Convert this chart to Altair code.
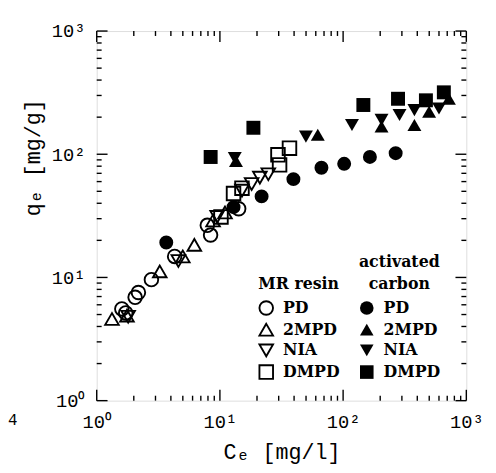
import altair as alt
import pandas as pd

# ---------------- data ----------------
compounds = ["PD", "2MPD", "NIA", "DMPD"]
shapes = ["circle", "triangle-up", "triangle-down", "square"]

# MR resin (open symbols)
resin_PD_x = [1.60, 1.72, 2.05, 2.18, 2.78, 4.29, 7.9, 8.4, 14.2]
resin_PD_y = [5.55, 5.15, 6.9, 7.55, 9.6, 14.8, 26.5, 22.1, 36.1]
resin_2MPD_x = [1.33, 1.76, 3.25, 5.0, 6.2, 8.8, 11.0]
resin_2MPD_y = [4.6, 4.9, 11.2, 14.8, 18.4, 29.0, 33.7]
resin_NIA_x = [1.8, 4.6, 9.5, 15.1, 18.1, 21.1, 24.7]
resin_NIA_y = [4.8, 13.6, 31.0, 50.6, 57.3, 64.6, 68.8]
resin_DMPD_x = [10.2, 12.9, 15.1, 29.6, 30.5, 36.7]
resin_DMPD_y = [31.0, 48.0, 53.0, 99.0, 82.0, 112.0]

# activated carbon (filled symbols)
carbon_PD_x = [3.67, 12.9, 21.8, 39.5, 66.7, 102, 165, 267]
carbon_PD_y = [19.2, 37.2, 45.5, 62.8, 77.7, 83.6, 95.1, 102]
carbon_2MPD_x = [13.5, 62.3, 205, 379, 499, 722]
carbon_2MPD_y = [88, 144, 168, 173, 221, 282]
carbon_NIA_x = [13.2, 49.9, 118, 205, 287, 379, 600]
carbon_NIA_y = [93, 139, 173, 190, 208, 228, 235]
carbon_DMPD_x = [8.41, 18.7, 146, 279, 470, 657]
carbon_DMPD_y = [95, 164, 251, 282, 274, 318]

major_ticks = [1, 10, 100, 1000]
minor_ticks = [k * 10 ** e for e in range(3) for k in range(2, 10)]
tick_labels = ["10\u2070", "10\u00b9", "10\u00b2", "10\u00b3"]

# ---------------- tables ----------------
def series(material, comp, xs, ys):
    return pd.DataFrame({"material": material, "compound": comp, "Ce": xs, "qe": ys})

resin = pd.concat([
    series("MR resin", "PD", resin_PD_x, resin_PD_y),
    series("MR resin", "2MPD", resin_2MPD_x, resin_2MPD_y),
    series("MR resin", "NIA", resin_NIA_x, resin_NIA_y),
    series("MR resin", "DMPD", resin_DMPD_x, resin_DMPD_y),
])
carbon = pd.concat([
    series("activated carbon", "PD", carbon_PD_x, carbon_PD_y),
    series("activated carbon", "2MPD", carbon_2MPD_x, carbon_2MPD_y),
    series("activated carbon", "NIA", carbon_NIA_x, carbon_NIA_y),
    series("activated carbon", "DMPD", carbon_DMPD_x, carbon_DMPD_y),
])
majors = pd.DataFrame({"v": major_ticks})
minors = pd.DataFrame({"v": minor_ticks})

W, H = 375, 375
FONT = "Liberation Mono"
LFONT = "DejaVu Serif"
xscale = alt.Scale(type="log", domain=[1, 1000], nice=False)
yscale = alt.Scale(type="log", domain=[1, 1000], nice=False)

label_expr = " : ".join(
    f"datum.value == {v} ? '{t}'" for v, t in zip(major_ticks, tick_labels)
) + " : ''"

axis_common = dict(
    values=major_ticks, labelExpr=label_expr, ticks=False, domain=False, grid=False,
    labelFont=FONT, labelFontSize=19, labelColor="black",
    titleFont=FONT, titleFontSize=22, titleFontWeight="normal", titleColor="black",
    labelFlush=False,
)

x_axis = alt.Axis(title="C\u2091 [mg/l]", labelPadding=12, titleY=59,
                  titleBaseline="alphabetic", **axis_common)
y_axis = alt.Axis(title="q\u2091 [mg/g]", labelPadding=12, titleX=-58, titleY=128,
                  titleAngle=270, titleBaseline="alphabetic", titleAlign="center",
                  **axis_common)

X_ENC = lambda f: alt.X(f, scale=xscale, axis=x_axis)
Y_ENC = lambda f: alt.Y(f, scale=yscale, axis=y_axis)

legend_common = dict(
    orient="none", direction="vertical", padding=0,
    titleFont=LFONT, titleFontSize=16, titleFontWeight="bold", titleColor="black",
    labelFont=LFONT, labelFontSize=16, labelFontWeight="bold", labelColor="black",
    symbolSize=190, symbolStrokeWidth=1.9, symbolStrokeColor="black",
    rowPadding=1, labelOffset=9, titlePadding=8, symbolOpacity=1,
)

resin_layer = alt.Chart(resin).mark_point(
    filled=False, color="black", strokeWidth=1.9, size=190, opacity=1
).encode(
    x=X_ENC("Ce:Q"),
    y=Y_ENC("qe:Q"),
    shape=alt.Shape("compound:N", scale=alt.Scale(domain=compounds, range=shapes),
                    legend=alt.Legend(title="MR resin", legendX=164, legendY=249,
                                      symbolFillColor="white", **legend_common)),
)

carbon_layer = alt.Chart(carbon).mark_point(
    filled=True, color="black", size=200, opacity=1
).encode(
    x=X_ENC("Ce:Q"),
    y=Y_ENC("qe:Q"),
    shape=alt.Shape("compound:N", scale=alt.Scale(domain=compounds, range=shapes),
                    legend=alt.Legend(title=["activated", "carbon"], legendX=266, legendY=226,
                                      titleAnchor="middle", titleAlign="center",
                                      titleLineHeight=23,
                                      symbolFillColor="black", **legend_common)),
)

def xticks(df, length):
    base = alt.Chart(df).mark_rule(color="black", strokeWidth=1.4)
    return [
        base.encode(x=X_ENC("v:Q"), y=alt.value(H), y2=alt.value(H - length)),
        base.encode(x=X_ENC("v:Q"), y=alt.value(0), y2=alt.value(length)),
    ]

def yticks(df, length):
    base = alt.Chart(df).mark_rule(color="black", strokeWidth=1.4)
    return [
        base.encode(y=Y_ENC("v:Q"), x=alt.value(0), x2=alt.value(length)),
        base.encode(y=Y_ENC("v:Q"), x=alt.value(W), x2=alt.value(W - length)),
    ]

tick_layers = xticks(majors, 11) + xticks(minors, 5) + yticks(majors, 11) + yticks(minors, 5)

stray = alt.Chart(pd.DataFrame({"t": ["4"]})).mark_text(
    font=FONT, fontSize=16, align="left", baseline="middle", color="black"
).encode(text="t:N", x=alt.value(-90), y=alt.value(395))

chart = alt.layer(resin_layer, carbon_layer, *tick_layers, stray).resolve_scale(
    shape="independent"
).properties(
    width=W, height=H,
    autosize=alt.AutoSizeParams(type="none"),
    padding={"left": 90, "top": 20, "right": 22, "bottom": 68},
).configure_view(stroke="black", strokeWidth=2).configure(background="white")

chart.save("out.html", embed_options={"renderer": "svg", "actions": False})
